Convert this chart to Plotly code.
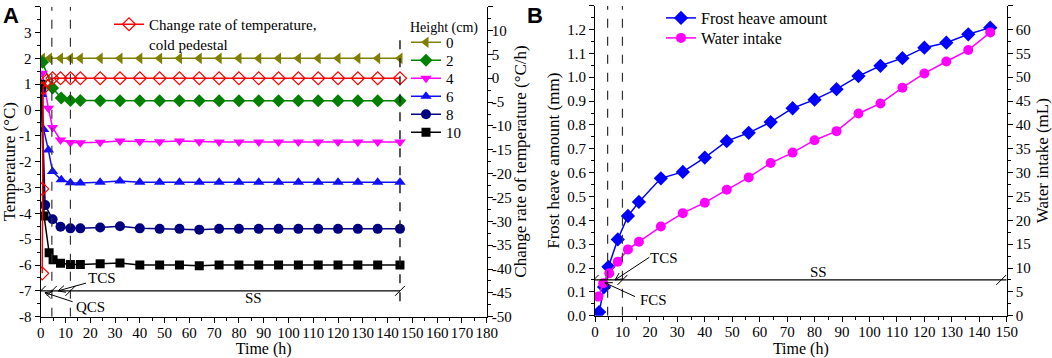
import plotly.graph_objects as go
import math

W, H = 1052, 358
FONT = "Liberation Serif"

# ---------------- Panel A data ----------------
late_t = [16, 24, 32, 40, 48, 56, 64, 72, 80, 88, 96, 104, 112, 120, 128, 136, 145]

h0_t = [0.7, 3.5, 8, 12] + late_t
h0_v = [2.0, 2.0, 2.0, 2.0] + [2.0] * 17

h2_t = [0.7, 4.8, 8.3, 12] + late_t
h2_v = [1.85, 0.85, 0.47, 0.37] + [0.37, 0.36, 0.36, 0.36, 0.36, 0.36, 0.36, 0.36, 0.36, 0.36, 0.36, 0.36, 0.36, 0.36, 0.36, 0.36, 0.36]

h4_t = [0.6, 3.1, 4.8, 8, 12] + late_t
h4_v = [1.42, 0.07, -0.68, -1.16, -1.26] + [-1.27, -1.25, -1.2, -1.22, -1.23, -1.2, -1.23, -1.24, -1.24, -1.24, -1.24, -1.24, -1.24, -1.24, -1.24, -1.24, -1.24]

h6_t = [0.4, 1.2, 3.1, 4.8, 8.3, 12] + late_t
h6_v = [0.6, -0.75, -1.55, -2.38, -2.7, -2.81] + [-2.82, -2.8, -2.75, -2.8, -2.8, -2.8, -2.8, -2.8, -2.8, -2.8, -2.8, -2.8, -2.8, -2.8, -2.8, -2.8, -2.8]

h8_t = [0.3, 1.8, 4.8, 8, 12] + late_t
h8_v = [0.8, -3.68, -4.23, -4.52, -4.58] + [-4.58, -4.55, -4.5, -4.58, -4.6, -4.6, -4.63, -4.6, -4.6, -4.6, -4.6, -4.6, -4.6, -4.6, -4.6, -4.6, -4.6]

h10_t = [0.2, 1.35, 3.4, 5, 8, 12] + late_t
h10_v = [1.0, -4.1, -5.52, -5.8, -5.93, -5.98] + [-5.98, -5.95, -5.92, -6.0, -6.0, -6.0, -6.03, -6.0, -6.0, -6.0, -6.0, -6.0, -6.0, -6.0, -6.0, -6.0, -6.0]

rate_t = [0.6, 0.65, 1.0, 2.4, 4.8, 8, 12] + late_t
rate_v = [-40.9, -23.2, -2.1, -0.5, 0.0, 0.0, 0.0] + [0.0] * 17

heights = ["0", "2", "4", "6", "8", "10"]

# ---------------- Panel B data ----------------
fh_t = [1.5, 3.3, 4.9, 8.3, 12, 16, 24, 32, 40, 48, 56, 64, 72, 80, 88, 96, 104, 112, 120, 128, 136, 144]
fh_v = [0.015, 0.12, 0.205, 0.32, 0.418, 0.477, 0.576, 0.603, 0.663, 0.732, 0.767, 0.812, 0.87, 0.906, 0.95, 1.005, 1.048, 1.08, 1.124, 1.145, 1.18, 1.208]

wi_t = [1.2, 3.0, 5.2, 8.3, 12, 16, 24, 32, 40, 48, 56, 64, 72, 80, 88, 96, 104, 112, 120, 128, 136, 144]
wi_v = [4.0, 6.8, 8.9, 11.3, 13.9, 15.5, 18.7, 21.5, 23.7, 26.4, 29.0, 32.0, 34.2, 36.8, 38.7, 42.4, 44.5, 47.8, 50.8, 53.3, 55.7, 59.4]

# tick labels
yA_vals = list(range(-8, 5))
yA_text = [str(v) for v in yA_vals]
yA2_vals = list(range(-50, 20, 5))
yA2_text = [str(v) for v in yA2_vals]
yB_vals = [i / 10 for i in range(0, 14)]
yB_text = ["%.1f" % v for v in yB_vals]

# ---------------- geometry (window pixels) ----------------
def px(x):
    return x / W

def py(y):
    return 1 - y / H

xA = [px(40.7), px(486.7)]
xB = [px(595.0), px(1006.7)]
yA = [py(316.7), py(6.7)]
yB = [py(315.7), py(5.7)]

fig = go.Figure()

colors = ["#808000", "#008000", "#FF00FF", "#1010FF", "#000080", "#000000"]
symbols = ["triangle-left", "diamond", "triangle-down", "triangle-up", "circle", "square"]
msizes = [10, 10, 10, 10, 10, 9]
series = [(h0_t, h0_v), (h2_t, h2_v), (h4_t, h4_v), (h6_t, h6_v), (h8_t, h8_v), (h10_t, h10_v)]

fig.add_trace(go.Scatter(x=rate_t, y=rate_v, xaxis="x", yaxis="y2", mode="lines+markers",
                         name="Change rate of temperature,<br>cold pedestal",
                         line=dict(color="#FF0000", width=1.5),
                         marker=dict(symbol="diamond-open", size=10, color="#FF0000", line=dict(width=1.2)),
                         legend="legend"))
for i, ((t, v), c, s, ms, nm) in enumerate(zip(series, colors, symbols, msizes, heights)):
    fig.add_trace(go.Scatter(x=t, y=v, xaxis="x", yaxis="y", mode="lines+markers", name=nm,
                             line=dict(color=c, width=1.5),
                             marker=dict(symbol=s, size=ms, color=c),
                             legend="legend%d" % (i + 2)))

fig.add_trace(go.Scatter(x=fh_t, y=fh_v, xaxis="x2", yaxis="y3", mode="lines+markers",
                         name="Frost heave amount", line=dict(color="#0000FF", width=1.5),
                         marker=dict(symbol="diamond", size=11, color="#0000FF"), legend="legend8"))
fig.add_trace(go.Scatter(x=wi_t, y=wi_v, xaxis="x2", yaxis="y4", mode="lines+markers",
                         name="Water intake", line=dict(color="#FF00FF", width=1.5),
                         marker=dict(symbol="circle", size=10, color="#FF00FF"), legend="legend9"))

tickfont = dict(family=FONT, size=15, color="black")
titlefont = dict(family=FONT, size=17, color="black")
xtitlefont = dict(family=FONT, size=16, color="black")
common = dict(showgrid=False, zeroline=False, showline=True, linecolor="black", linewidth=1.2,
              ticks="outside", ticklen=5, tickwidth=1.2, tickcolor="black", tickfont=tickfont,
              automargin=False)

def leg(xw, ytop, size=15, valign="middle"):
    return dict(x=px(xw), y=py(ytop), xanchor="left", yanchor="top", bgcolor="rgba(0,0,0,0)",
                font=dict(family=FONT, size=size, color="black"), itemwidth=30, valign=valign)

legends = {"legend": leg(109, 8, valign="top")}
for i, yc in enumerate([44, 62, 80, 98, 116, 134]):
    legends["legend%d" % (i + 2)] = leg(406, yc - 18)
legends["legend8"] = leg(661, 19 - 18, size=16)
legends["legend9"] = leg(661, 39 - 18, size=16)

fig.update_layout(
    width=W, height=H, margin=dict(l=0, r=0, t=0, b=0, autoexpand=False),
    paper_bgcolor="white", plot_bgcolor="white", showlegend=True,
    font=dict(family=FONT, color="black"),
    xaxis=dict(domain=xA, range=[0, 180], dtick=10, anchor="y", ticklabelstandoff=-3,
               minor=dict(dtick=5, ticklen=3, ticks="outside", tickcolor="black"),
               title=dict(text="Time (h)", font=xtitlefont, standoff=5), **common),
    xaxis3=dict(domain=xA, range=[0, 180], dtick=10, anchor="y", overlaying="x", side="top",
                showgrid=False, zeroline=False, showline=True, linecolor="black", linewidth=1.2,
                ticks="inside", ticklen=5, tickwidth=1.2, tickcolor="black", showticklabels=False,
                automargin=False,
                minor=dict(dtick=5, ticklen=3, ticks="inside", tickcolor="black")),
    yaxis=dict(domain=yA, range=[-8, 4], tickmode="array", tickvals=yA_vals, ticktext=yA_text, anchor="x",
               minor=dict(dtick=0.5, ticklen=3, ticks="outside", tickcolor="black"),
               title=dict(text="Temperature (°C)", font=titlefont, standoff=5), **common),
    yaxis2=dict(range=[-50, 15], tickmode="array", tickvals=yA2_vals, ticktext=yA2_text, anchor="x",
                overlaying="y", side="right", ticklabelstandoff=-4,
                minor=dict(dtick=2.5, ticklen=3, ticks="outside", tickcolor="black"), **common),
    xaxis2=dict(domain=xB, range=[0, 150], dtick=10, anchor="y3", ticklabelstandoff=-3,
                minor=dict(dtick=5, ticklen=3, ticks="outside", tickcolor="black"),
                title=dict(text="Time (h)", font=xtitlefont, standoff=5), **common),
    xaxis4=dict(domain=xB, range=[0, 150], anchor="y3", overlaying="x2", side="top",
                showgrid=False, zeroline=False, showline=True, linecolor="black", linewidth=1.2,
                ticks="", showticklabels=False, automargin=False),
    yaxis3=dict(domain=yB, range=[0, 1.3], tickmode="array", tickvals=yB_vals, ticktext=yB_text, anchor="x2",
                minor=dict(dtick=0.05, ticklen=3, ticks="outside", tickcolor="black"),
                title=dict(text="Frost heave amount (mm)", font=titlefont, standoff=3), **common),
    yaxis4=dict(range=[0, 65], dtick=5, anchor="x2", overlaying="y3", side="right",
                minor=dict(dtick=2.5, ticklen=3, ticks="outside", tickcolor="black"),
                title=dict(text="Water intake (mL)", font=titlefont, standoff=6), **common),
    **legends,
)

def scale(dom_x, rng_x, dom_y, rng_y):
    sx = (dom_x[1] - dom_x[0]) * W / (rng_x[1] - rng_x[0])
    sy = (dom_y[1] - dom_y[0]) * H / (rng_y[1] - rng_y[0])
    return sx, sy

sxA, syA = scale(xA, [0, 180], yA, [-8, 4])
sxB, syB = scale(xB, [0, 150], yB, [0, 1.3])

shapes = []
def line(xr, yr, x0, y0, x1, y1, dash=None, width=1.2, color="black"):
    d = dict(type="line", xref=xr, yref=yr, x0=x0, y0=y0, x1=x1, y1=y1,
             line=dict(color=color, width=width))
    if dash:
        d["line"]["dash"] = dash
    shapes.append(d)

def slash(xr, yr, x, y, sx, sy, r=5):
    line(xr, yr, x - r / sx, y - r / sy, x + r / sx, y + r / sy, width=1)

def arrow(xr, yr, xt, yt, xh, yh, sx, sy, L=8, ang=0.45):
    line(xr, yr, xt, yt, xh, yh, width=1)
    dxp = (xt - xh) * sx
    dyp = (yt - yh) * sy
    a = math.atan2(dyp, dxp)
    for s in (ang, -ang):
        ex = xh + L * math.cos(a + s) / sx
        ey = yh + L * math.sin(a + s) / sy
        line(xr, yr, xh, yh, ex, ey, width=1)

# Panel A
for xv in (4.5, 12):
    line("x", "y", xv, -8, xv, 4, dash="dash", width=1.2, color="#333333")
line("x", "y", 145, 2.7, 145, -7.5, dash="dash", width=1.5, color="#222222")
line("x", "y", 0, -7, 145, -7, width=1.2)
for xv in (0, 4.5, 12, 145):
    slash("x", "y", xv, -7, sxA, syA)
arrow("x", "y", 18.3, -6.7, 7.0, -7.0, sxA, syA)
arrow("x", "y", 12.9, -7.42, 1.7, -7.07, sxA, syA)

# Panel B
for xv in (4.6, 10):
    line("x2", "y3", xv, 0, xv, 1.3, dash="dash", width=1.2, color="#333333")
line("x2", "y3", -2.5, 0.15, 150, 0.15, width=1.2)
for xv in (-0.5, 10, 148):
    slash("x2", "y3", xv, 0.15, sxB, syB)
arrow("x2", "y3", 19.8, 0.245, 7.3, 0.150, sxB, syB)
arrow("x2", "y3", 14.6, 0.080, 3.6, 0.138, sxB, syB)

fig.update_layout(shapes=shapes)

af = dict(family=FONT, size=15, color="black")
ann = [
    dict(xref="x", yref="y", x=24.6, y=-6.5, text="TCS", showarrow=False, font=af),
    dict(xref="x", yref="y", x=20.1, y=-7.61, text="QCS", showarrow=False, font=af),
    dict(xref="x", yref="y", x=86.0, y=-7.28, text="SS", showarrow=False, font=af),
    dict(xref="x2", yref="y3", x=25.1, y=0.241, text="TCS", showarrow=False, font=af),
    dict(xref="x2", yref="y3", x=21.2, y=0.066, text="FCS", showarrow=False, font=af),
    dict(xref="x2", yref="y3", x=81.6, y=0.184, text="SS", showarrow=False, font=af),
    dict(xref="paper", yref="paper", x=px(408), y=py(28), xanchor="left", yanchor="middle",
         text="Height (cm)", showarrow=False, font=dict(family=FONT, size=14, color="black")),
    dict(xref="paper", yref="paper", x=px(521), y=py(161.7), xanchor="center", yanchor="middle",
         text="Change rate of temperature (°C/h)", textangle=-90, showarrow=False, font=titlefont),
    dict(xref="paper", yref="paper", x=px(1), y=py(1), xanchor="left", yanchor="top", text="<b>A</b>",
         showarrow=False, font=dict(family="Liberation Sans", size=22, color="black")),
    dict(xref="paper", yref="paper", x=px(525), y=py(1), xanchor="left", yanchor="top", text="<b>B</b>",
         showarrow=False, font=dict(family="Liberation Sans", size=22, color="black")),
]
fig.update_layout(annotations=ann)

fig.write_html("out.html", post_script="document.body.style.margin='0px';",
               config={"displayModeBar": False})
